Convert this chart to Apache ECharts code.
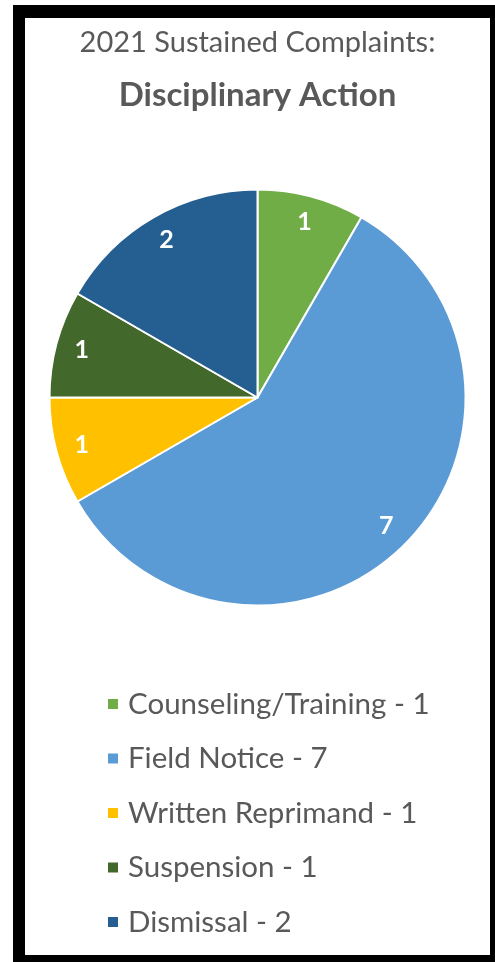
<!DOCTYPE html>
<html>
<head>
<meta charset="utf-8">
<script src="https://cdn.jsdelivr.net/npm/echarts@6/dist/echarts.min.js"></script>
<style>
  html, body { margin: 0; padding: 0; background: #fff; }
  #frame { position: absolute; left: 13px; top: 5px; width: 482px; height: 957px; background: #000; }
  #chart { position: absolute; left: 25px; top: 18px; width: 465px; height: 937px; background: #fff; }
</style>
</head>
<body>
<div id="frame"></div>
<div id="chart"></div>
<script>
const categories = ["Counseling/Training", "Field Notice", "Written Reprimand", "Suspension", "Dismissal"];
const counts = [1, 7, 1, 1, 2];
const colors = ["#70AD47", "#5B9BD5", "#FFC000", "#43682B", "#255E91"];

const chart = echarts.init(document.getElementById("chart"));

const data = categories.map(function (name, i) {
  return { name: name, value: counts[i], itemStyle: { color: colors[i] } };
});

const fontFamily = "Lato, 'Open Sans', sans-serif";

chart.setOption({
  animation: false,
  title: {
    text: "2021 Sustained Complaints:",
    subtext: "Disciplinary Action",
    left: "center",
    top: 3,
    itemGap: 18,
    textStyle: { fontFamily: fontFamily, fontSize: 29, fontWeight: "normal", color: "#595959", lineHeight: 34 },
    subtextStyle: { fontFamily: fontFamily, fontSize: 33, fontWeight: "bold", color: "#595959", lineHeight: 34 }
  },
  legend: {
    orient: "vertical",
    left: 76,
    top: 666,
    itemWidth: 12,
    itemHeight: 12,
    itemGap: 24.5,
    icon: "rect",
    formatter: function (name) {
      return name + " - " + counts[categories.indexOf(name)];
    },
    textStyle: { fontFamily: fontFamily, fontSize: 29.5, color: "#595959", lineHeight: 30, padding: [0, 0, 0, 4] }
  },
  series: [
    {
      type: "pie",
      center: ["50%", 379.5],
      radius: [0, 208],
      startAngle: 90,
      clockwise: true,
      silent: true,
      itemStyle: { borderColor: "#fff", borderWidth: 2 },
      label: { show: false },
      labelLine: { show: false },
      data: data
    },
    {
      // transparent ring only used to place the value labels near the rim
      type: "pie",
      center: ["50%", 379.5],
      radius: [150, 208],
      startAngle: 90,
      clockwise: true,
      silent: true,
      itemStyle: { color: "rgba(0,0,0,0)" },
      label: {
        show: true,
        position: "inside",
        formatter: "{c}",
        color: "#fff",
        fontFamily: fontFamily,
        fontSize: 25,
        fontWeight: "bold"
      },
      labelLine: { show: false },
      data: categories.map(function (name, i) { return { name: name, value: counts[i] }; })
    }
  ]
});

window.addEventListener("resize", () => chart.resize());
</script>
</body>
</html>
